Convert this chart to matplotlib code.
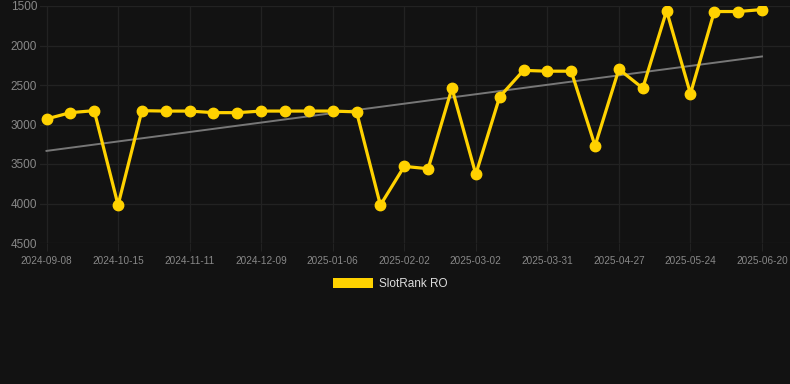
import numpy as np
from matplotlib import pyplot as plt
from matplotlib.patches import Patch

dates = [
    '2024-09-08', '2024-09-20', '2024-10-03', '2024-10-15', '2024-10-24', '2024-11-02',
    '2024-11-11', '2024-11-20', '2024-11-30', '2024-12-09', '2024-12-18', '2024-12-28',
    '2025-01-06', '2025-01-15', '2025-01-24', '2025-02-02', '2025-02-11', '2025-02-21',
    '2025-03-02', '2025-03-12', '2025-03-21', '2025-03-31', '2025-04-09', '2025-04-18',
    '2025-04-27', '2025-05-06', '2025-05-15', '2025-05-24', '2025-06-02', '2025-06-11',
    '2025-06-20',
]
ranks = [
    2930, 2850, 2825, 4020, 2825, 2830, 2830, 2850, 2850, 2830, 2830, 2830,
    2830, 2840, 4020, 3530, 3560, 2540, 3630, 2650, 2315, 2325, 2325, 3270,
    2300, 2540, 1560, 2610, 1570, 1570, 1545,
]
y_ticks = [1500, 2000, 2500, 3000, 3500, 4000, 4500]
series_name = 'SlotRank RO'

bg = '#121212'
grid_color = '#222222'
gold = '#FFD200'

plt.rcParams['font.family'] = ['Liberation Sans', 'DejaVu Sans']

fig = plt.figure(figsize=(7.9, 3.84), dpi=100, facecolor=bg)
ax = fig.add_axes([40 / 790, 1 - 243 / 384, 750 / 790, 237 / 384], facecolor=bg)

xs = np.arange(len(dates))
ax.plot(xs, ranks, color=gold, linewidth=2.3, marker='o', markersize=7.5, zorder=3)

# linear trend over the series
slope, intercept = np.polyfit(xs, ranks, 1)
ax.plot(xs, slope * xs + intercept, color='#777777', linewidth=1.4, zorder=2)

ax.set_ylim(4500, 1500)
ax.set_yticks(y_ticks)
ax.set_xlim(-6.5 / 23.85, 30 + 28 / 23.85)
ax.set_xticks(xs[::3])
ax.set_xticklabels(dates[::3])

ax.grid(True, color=grid_color, linewidth=0.9)
ax.set_axisbelow(True)
for spine in ax.spines.values():
    spine.set_visible(False)

ax.tick_params(axis='x', colors=grid_color, labelcolor='#888888', labelsize=7.2, length=6, pad=3)
ax.tick_params(axis='y', colors=grid_color, labelcolor='#888888', labelsize=8.5, length=0, pad=2)

fig.legend(handles=[Patch(facecolor=gold, edgecolor='none', label=series_name)],
           loc='center', bbox_to_anchor=(390 / 790, 1 - 284 / 384), frameon=False,
           fontsize=8.5, labelcolor='#dddddd', handlelength=3.4, handleheight=1.0,
           handletextpad=0.5)

plt.savefig('out.png', dpi=100, facecolor=bg)
plt.close()
